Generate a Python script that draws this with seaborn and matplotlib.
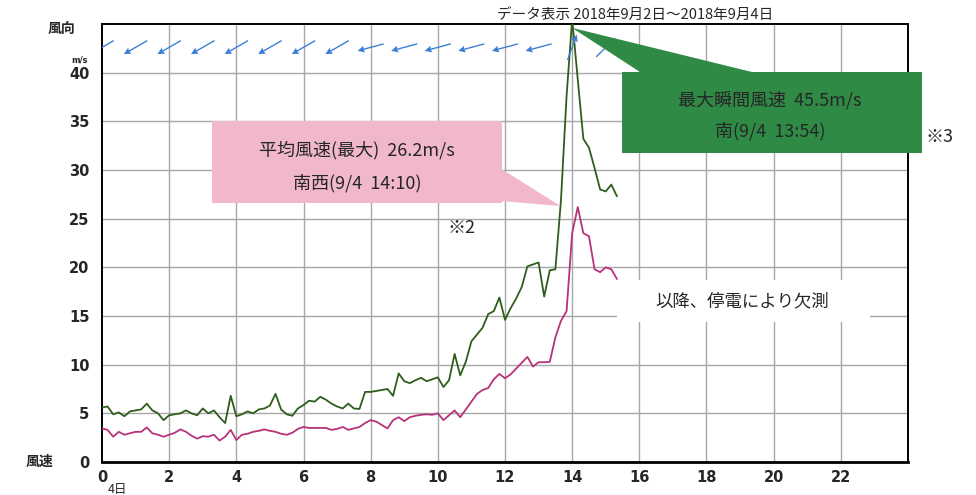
import numpy as np
import pandas as pd
import matplotlib
matplotlib.use("Agg")
import matplotlib.pyplot as plt
from matplotlib.patches import Polygon, Rectangle
import seaborn as sns

# 9/4 0:00 から10分ごとの値 (m/s)
max_gust = [5.6, 5.7, 4.9, 5.1, 4.7, 5.2, 5.3, 5.4, 6.0, 5.3, 5.0, 4.3,
            4.8, 4.9, 5.0, 5.3, 5.0, 4.8, 5.5, 5.0, 5.3, 4.6, 4.0, 6.8,
            4.7, 4.9, 5.2, 5.0, 5.4, 5.5, 5.8, 7.0, 5.4, 4.9, 4.75, 5.5,
            5.85, 6.3, 6.2, 6.7, 6.4, 6.0, 5.7, 5.5, 6.0, 5.5, 5.45, 7.2,
            7.2, 7.3, 7.4, 7.5, 6.8, 9.1, 8.3, 8.1, 8.4, 8.65, 8.3, 8.5,
            8.7, 7.7, 8.4, 11.1, 8.9, 10.3, 12.4, 13.1, 13.8, 15.2, 15.5, 16.9,
            14.6, 15.8, 16.8, 18.0, 20.1, 20.3, 20.5, 17.0, 19.7, 19.8, 26.9, 37.6,
            45.5, 39.3, 33.2, 32.3, 30.2, 28.0, 27.8, 28.5, 27.3]
mean_wind = [3.45, 3.3, 2.6, 3.1, 2.8, 2.95, 3.1, 3.1, 3.55, 2.95, 2.8, 2.6,
             2.8, 3.0, 3.35, 3.1, 2.7, 2.4, 2.65, 2.6, 2.8, 2.2, 2.6, 3.3,
             2.25, 2.8, 2.9, 3.1, 3.2, 3.35, 3.2, 3.1, 2.9, 2.8, 3.0, 3.4,
             3.6, 3.5, 3.5, 3.5, 3.5, 3.3, 3.4, 3.6, 3.3, 3.45, 3.6, 4.0,
             4.3, 4.15, 3.8, 3.45, 4.3, 4.6, 4.2, 4.6, 4.75, 4.85, 4.9, 4.85,
             5.0, 4.3, 4.8, 5.3, 4.6, 5.4, 6.2, 7.0, 7.4, 7.6, 8.5, 9.05,
             8.6, 9.0, 9.6, 10.2, 10.8, 9.8, 10.25, 10.25, 10.3, 12.8, 14.5, 15.5,
             23.5, 26.2, 23.5, 23.2, 19.8, 19.5, 20.0, 19.8, 18.8]
step_min = 10

# 毎正時の風向 (吹いてくる方位, 度)
dir_hours = [0, 1, 2, 3, 4, 5, 6, 7, 8, 9, 10, 11, 12, 13, 14, 15]
wind_dir = [60, 60, 60, 60, 60, 60, 60, 60, 75, 75, 75, 75, 75, 75, 200, 225]

x_ticks = [0, 2, 4, 6, 8, 10, 12, 14, 16, 18, 20, 22]
y_ticks = [0, 5, 10, 15, 20, 25, 30, 35, 40]

sns.set_style("white")
plt.rcParams["font.family"] = ["Noto Sans CJK JP", "DejaVu Sans"]

W, H = 976, 495
fig = plt.figure(figsize=(W / 100, H / 100), dpi=100)
ax = fig.add_axes([102 / W, 1 - 462 / H, (908 - 102) / W, (462 - 24) / H])


def px(x, y):
    return (x / W, 1 - y / H)


n = len(max_gust)
hours = np.arange(n) * step_min / 60
df = pd.DataFrame({
    "hour": np.concatenate([hours, hours]),
    "speed": max_gust + mean_wind,
    "kind": ["最大瞬間風速"] * n + ["平均風速"] * n,
})
sns.lineplot(data=df, x="hour", y="speed", hue="kind",
             palette={"最大瞬間風速": "#2f5e1c", "平均風速": "#b8327a"},
             linewidth=1.3, legend=False, ax=ax, zorder=3)

# 風向の矢印
theta = np.deg2rad(90 - (np.array(wind_dir) + 180))
L = 0.27
ax.quiver(dir_hours, [42.6] * len(dir_hours), L * np.cos(theta), L * np.sin(theta),
          angles="uv", pivot="middle", scale_units="inches", scale=1,
          width=0.0017, headwidth=5, headlength=5, headaxislength=4.5,
          color="#3b7fd4", zorder=4)

ax.set_xlim(0, 24)
ax.set_ylim(0, 45)
ax.set_xticks(x_ticks)
ax.set_yticks(y_ticks)
ax.set_xticklabels([str(t) for t in x_ticks], fontweight="bold", fontsize=10.5,
                   family="DejaVu Sans")
ax.set_yticklabels([str(t) for t in y_ticks], fontweight="bold", fontsize=10.5,
                   family="DejaVu Sans")
ax.tick_params(axis="y", length=0, pad=9)
ax.tick_params(axis="x", length=0, pad=6)
ax.set_xlabel("")
ax.set_ylabel("")
for t in x_ticks[1:]:
    ax.axvline(t, color="#a8a8a8", lw=1, zorder=1)
for t in y_ticks[1:]:
    ax.axhline(t, color="#a8a8a8", lw=1, zorder=1)
for s in ax.spines.values():
    s.set_color("black")
    s.set_linewidth(1.4)
ax.spines["bottom"].set_linewidth(2)

# 周りの文字
fig.text(*px(635, 15), "データ表示 2018年9月2日～2018年9月4日", ha="center",
         va="center", fontsize=10.5)
fig.text(*px(62, 30), "風向", ha="center", va="center", fontsize=10,
         fontweight="bold")
fig.text(*px(80, 60), "m/s", ha="center", va="center", fontsize=6,
         fontweight="bold", family="DejaVu Sans")
fig.text(*px(40, 462), "風速", ha="center", va="center", fontsize=10,
         fontweight="bold")
fig.text(*px(118, 489), "4日", ha="center", va="center", fontsize=9)

# 吹き出し (最大瞬間風速)
to_fig = fig.transFigure.inverted()
peak = to_fig.transform(ax.transData.transform((14.0, 44.6)))
fig.add_artist(Polygon([peak, px(640, 72), px(752, 72)], closed=True,
                       transform=fig.transFigure, fc="#2f8a46", ec="none",
                       zorder=5))
fig.add_artist(Rectangle(px(622, 153), 300 / W, 81 / H,
                         transform=fig.transFigure, fc="#2f8a46", ec="none",
                         zorder=5))
fig.text(*px(770, 100), "最大瞬間風速  45.5m/s", ha="center", va="center",
         fontsize=13, zorder=6)
fig.text(*px(770, 131), "南(9/4  13:54)", ha="center", va="center",
         fontsize=13, zorder=6)
fig.text(*px(940, 137), "※3", ha="center", va="center", fontsize=13)

# 吹き出し (平均風速)
tip = to_fig.transform(ax.transData.transform((13.65, 26.3)))
fig.add_artist(Polygon([tip, px(500, 168), px(500, 201)], closed=True,
                       transform=fig.transFigure, fc="#f1b8cb", ec="none",
                       zorder=5))
fig.add_artist(Rectangle(px(212, 203), 290 / W, 82 / H,
                         transform=fig.transFigure, fc="#f1b8cb", ec="none",
                         zorder=5))
fig.text(*px(357, 150), "平均風速(最大)  26.2m/s", ha="center", va="center",
         fontsize=13, zorder=6)
fig.text(*px(357, 183), "南西(9/4  14:10)", ha="center", va="center",
         fontsize=13, zorder=6)
fig.text(*px(462, 228), "※2", ha="center", va="center", fontsize=13)

fig.add_artist(Rectangle(px(617, 322), 253 / W, 42 / H,
                         transform=fig.transFigure, fc="white", ec="none",
                         zorder=5))
fig.text(*px(742, 301), "以降、停電により欠測", ha="center", va="center",
         fontsize=12.5, zorder=6)

fig.savefig("out.png", dpi=100)
